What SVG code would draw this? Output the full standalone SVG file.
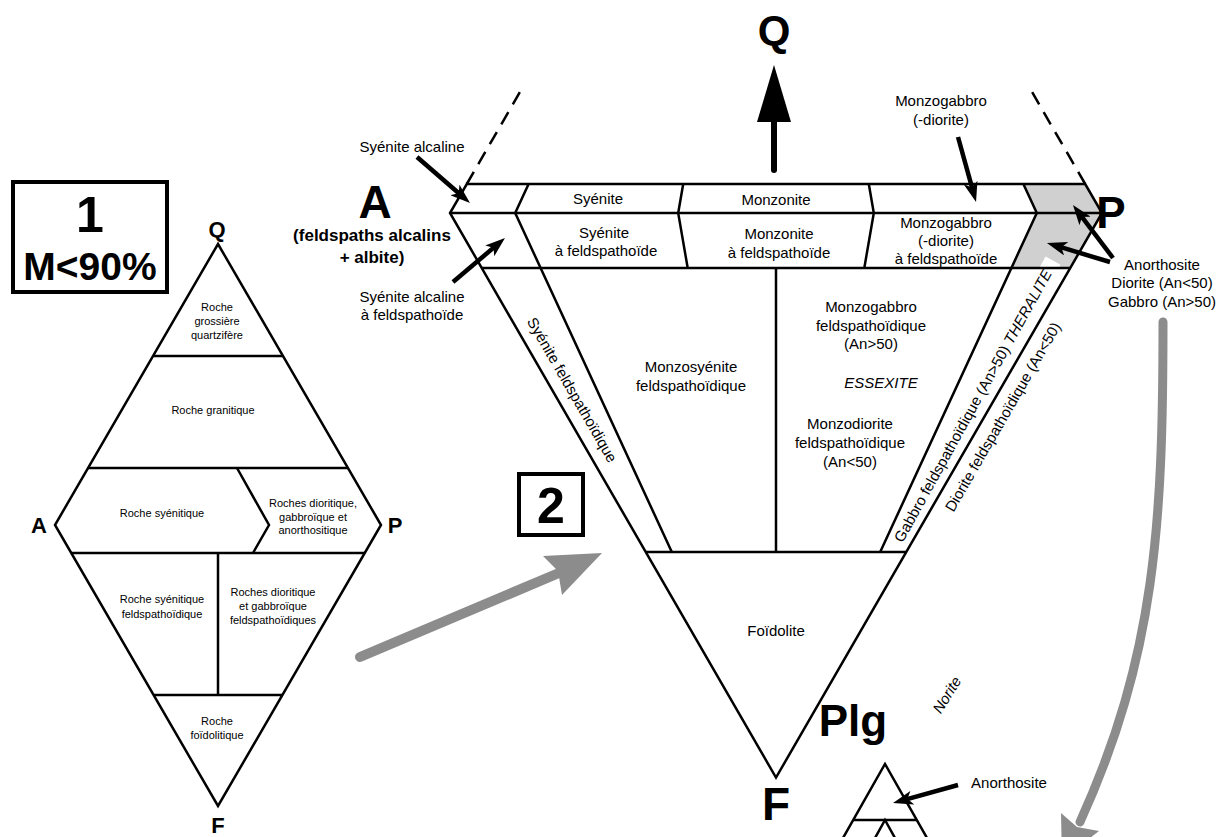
<svg xmlns="http://www.w3.org/2000/svg" width="1229" height="837" viewBox="0 0 1229 837">
<defs>
<style>
.ln{fill:none;stroke:#000;stroke-width:2.5;stroke-linejoin:miter}
.t{font-family:"Liberation Sans",Arial,sans-serif;font-size:15px;text-anchor:middle;fill:#000}
.s{font-family:"Liberation Sans",Arial,sans-serif;font-size:11px;text-anchor:middle;fill:#000}
.b{font-family:"Liberation Sans",Arial,sans-serif;font-weight:bold;text-anchor:middle;fill:#000}
.i{font-style:italic}
.arr{stroke:#000;stroke-width:4.5;fill:none;marker-end:url(#ah)}
.g{stroke:#8c8c8c;fill:none;stroke-linecap:round}
.box{fill:none;stroke:#000;stroke-width:4}
</style>
<marker id="ah" markerUnits="userSpaceOnUse" viewBox="0 0 20 14" markerWidth="20" markerHeight="14" refX="9" refY="7" orient="auto">
<path d="M0,0 L20,7 L0,14 L5,7 z" fill="#000"/>
</marker>
</defs>
<rect width="1229" height="837" fill="#fff"/>

<g id="diagram1">
<g id="box1">
<rect class="box" x="13" y="182" width="154" height="110"/>
<text class="b" x="90" y="232" font-size="50">1</text>
<text class="b" x="90" y="280" font-size="39">M&lt;90%</text>
</g>
<g id="diamond">
<polygon class="ln" points="218,244 381,525 218,806 55,525"/>
<line class="ln" x1="153" y1="356" x2="283" y2="356"/>
<line class="ln" x1="88" y1="468" x2="348" y2="468"/>
<line class="ln" x1="71" y1="553" x2="365" y2="553"/>
<line class="ln" x1="153.5" y1="695" x2="282.5" y2="695"/>
<polyline class="ln" points="237,468 269,525 253,553"/>
<line class="ln" x1="218" y1="553" x2="218" y2="695"/>
</g>
<g id="d1-labels">
<text class="b" x="217" y="237" font-size="22">Q</text>
<text class="b" x="39" y="533" font-size="22">A</text>
<text class="b" x="395" y="533" font-size="22">P</text>
<text class="b" x="218" y="833" font-size="22">F</text>
<text class="s" x="217" y="311">Roche</text>
<text class="s" x="217" y="325">grossière</text>
<text class="s" x="217" y="339">quartzifère</text>
<text class="s" x="213" y="414">Roche granitique</text>
<text class="s" x="162" y="517">Roche syénitique</text>
<text class="s" x="313" y="507">Roches dioritique,</text>
<text class="s" x="313" y="521">gabbroïque et</text>
<text class="s" x="313" y="534">anorthositique</text>
<text class="s" x="162" y="603">Roche syénitique</text>
<text class="s" x="162" y="618">feldspathoïdique</text>
<text class="s" x="273" y="596">Roches dioritique</text>
<text class="s" x="273" y="610">et gabbroïque</text>
<text class="s" x="273" y="624">feldspathoïdiques</text>
<text class="s" x="217" y="725">Roche</text>
<text class="s" x="217" y="739">foïdolitique</text>
</g>
</g>

<g id="diagram2">
<g id="gray-zone">
<polygon points="1023.4,184 1085.2,184 1102,213 1070.2,268 1011.4,268 1036.8,213" fill="#d0d0d0"/>
</g>
<g id="theralite-bg" transform="translate(973,406) rotate(-61)">
<rect x="72" y="-9" width="94" height="17" fill="#fff"/>
</g>
<g id="triangle">
<polygon class="ln" points="466.8,184 1085.2,184 1102,213 776,777.6 450,213"/>
<line class="ln" x1="450" y1="213" x2="1102" y2="213"/>
<line class="ln" x1="481.8" y1="268" x2="1070.2" y2="268"/>
<line class="ln" x1="645.7" y1="552" x2="906.3" y2="552"/>
<polyline class="ln" points="528.6,184 515.2,213 671.8,552"/>
<polyline class="ln" points="683.2,184 678.2,213 687.7,268"/>
<polyline class="ln" points="868.8,184 873.8,213 864.3,268"/>
<polyline class="ln" points="1023.4,184 1036.8,213 880.2,552"/>
<line class="ln" x1="776" y1="268" x2="776" y2="552"/>
<line class="ln" x1="466.8" y1="184" x2="524" y2="85" stroke-dasharray="14,9"/>
<line class="ln" x1="1085.2" y1="184" x2="1028" y2="85" stroke-dasharray="14,9"/>
</g>
<g id="d2-labels">
<text class="b" x="774" y="45" font-size="42">Q</text>
<text class="b" x="375" y="218" font-size="46">A</text>
<text class="b" x="372" y="241" font-size="17">(feldspaths alcalins</text>
<text class="b" x="372" y="263" font-size="17">+ albite)</text>
<text class="b" x="1111" y="228" font-size="44" text-anchor="start">P</text>
<text class="b" x="776" y="820" font-size="46">F</text>
<text class="t" x="412" y="152">Syénite alcaline</text>
<text class="t" x="412" y="302">Syénite alcaline</text>
<text class="t" x="412" y="320">à feldspathoïde</text>
<text class="t" x="598" y="204">Syénite</text>
<text class="t" x="776" y="205">Monzonite</text>
<text class="t" x="604" y="238">Syénite</text>
<text class="t" x="606" y="256">à feldspathoïde</text>
<text class="t" x="779" y="239">Monzonite</text>
<text class="t" x="779" y="258">à feldspathoïde</text>
<text class="t" x="946" y="228">Monzogabbro</text>
<text class="t" x="946" y="246">(-diorite)</text>
<text class="t" x="946" y="264">à feldspathoïde</text>
<text class="t" x="941" y="106">Monzogabbro</text>
<text class="t" x="941" y="125">(-diorite)</text>
<text class="t" x="1162" y="270">Anorthosite</text>
<text class="t" x="1162" y="288">Diorite (An&lt;50)</text>
<text class="t" x="1162" y="307">Gabbro (An&gt;50)</text>
<text class="t" x="691" y="372">Monzosyénite</text>
<text class="t" x="691" y="391">feldspathoïdique</text>
<text class="t" x="871" y="312">Monzogabbro</text>
<text class="t" x="871" y="331">feldspathoïdique</text>
<text class="t" x="871" y="349">(An&gt;50)</text>
<text class="t i" x="881" y="388">ESSEXITE</text>
<text class="t" x="850" y="429">Monzodiorite</text>
<text class="t" x="850" y="448">feldspathoïdique</text>
<text class="t" x="850" y="467">(An&lt;50)</text>
<text class="t" x="776" y="636">Foïdolite</text>
<text class="t" transform="translate(572,390) rotate(60)" y="5">Syénite feldspathoïdique</text>
<text class="t" transform="translate(973,406) rotate(-61)" y="5">Gabbro feldspathoïdique (An&gt;50) <tspan font-style="italic">THERALITE</tspan></text>
<text class="t" transform="translate(1003,417) rotate(-60)" y="5">Diorite feldspathoïdique (An&lt;50)</text>
</g>
<g id="box2">
<rect class="box" x="519" y="474" width="64" height="61"/>
<text class="b" x="551" y="523" font-size="50">2</text>
</g>
</g>

<g id="diagram3">
<g id="plg-triangle">
<polyline class="ln" points="843,838 885,764 927,838"/>
<line class="ln" x1="853" y1="820" x2="917" y2="820"/>
<polyline class="ln" points="875,838 885,820 895,838"/>
</g>
<text class="b" x="853" y="736" font-size="44" text-anchor="start">Plg</text>
<text class="t i" transform="translate(947,695) rotate(-58)" y="5">Norite</text>
<text class="t" x="1009" y="788">Anorthosite</text>
</g>

<g id="connectors">
<line x1="774" y1="170" x2="774" y2="115" stroke="#000" stroke-width="6" stroke-linecap="round"/>
<polygon points="774,65 757,122 791,122" fill="#000"/>
<line class="arr" x1="417" y1="157" x2="461.7" y2="195.8"/>
<line class="arr" x1="453" y1="282" x2="496.6" y2="245.1"/>
<line class="arr" x1="958" y1="137" x2="973.1" y2="191.4"/>
<line class="arr" x1="1113" y1="258" x2="1079.6" y2="213.8"/>
<line class="arr" x1="1110" y1="262" x2="1057.5" y2="246.2"/>
<line class="arr" x1="958" y1="785" x2="903.6" y2="800.1"/>
<line class="g" x1="360" y1="657" x2="566" y2="570" stroke-width="10"/>
<polygon points="602,553 543,556 558,571 562,595" fill="#8c8c8c"/>
<path class="g" d="M1163,322 C1163,522 1155.6,656 1080,822" stroke-width="9"/>
<polygon points="1062,860 1061,813 1077,827 1099,831" fill="#8c8c8c"/>
</g>
</svg>
